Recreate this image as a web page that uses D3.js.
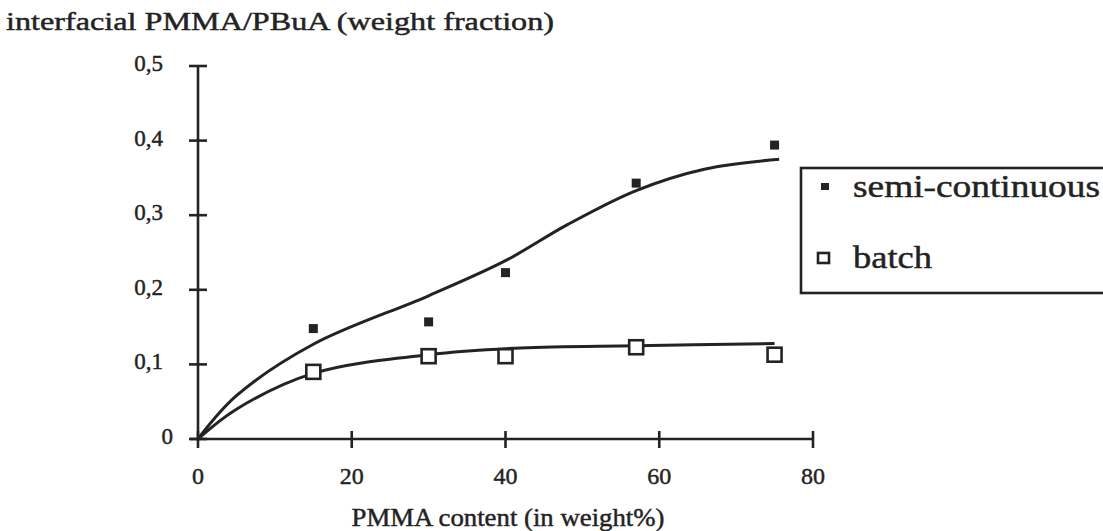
<!DOCTYPE html>
<html>
<head>
<meta charset="utf-8">
<script src="https://cdn.jsdelivr.net/npm/d3@7"></script>
<style>
  html, body { margin: 0; padding: 0; background: #fff; }
  svg { display: block; font-family: "Liberation Serif", "DejaVu Serif", serif; }
  text { stroke: #232323; stroke-width: 0.45px; }
</style>
</head>
<body>
<svg id="chart" width="1103" height="531"></svg>
<script>
// PMMA content (weight %) of the measured latexes
const pmmaContent = [15, 30, 40, 57, 75];
// interfacial PMMA/PBuA weight fraction, semi-continuous process
const semiContinuous = [0.148, 0.157, 0.223, 0.343, 0.394];
// interfacial PMMA/PBuA weight fraction, batch process
const batch = [0.090, 0.111, 0.111, 0.123, 0.113];

// hand-drawn trend curves through each series
const semiTrendX = [0, 5, 15, 30, 40, 48, 57, 66, 75.6];
const semiTrendY = [0, 0.058, 0.127, 0.192, 0.239, 0.287, 0.333, 0.362, 0.375];
const batchTrendX = [0, 5, 15, 30, 42, 57, 75];
const batchTrendY = [0, 0.040, 0.088, 0.113, 0.122, 0.125, 0.128];

const xTicks = [0, 20, 40, 60, 80];
const yTicks = [0, 0.1, 0.2, 0.3, 0.4, 0.5];
const yTickLabels = ["0", "0,1", "0,2", "0,3", "0,4", "0,5"];

const seriesNames = ["semi-continuous", "batch"];
const titleText = "interfacial PMMA/PBuA (weight fraction)";
const xAxisTitle = "PMMA content (in weight%)";

const ink = "#232323";
const svg = d3.select("#chart");

const x = d3.scaleLinear().domain([0, 80]).range([198, 813]);
const y = d3.scaleLinear().domain([0, 0.5]).range([439, 66]);

// axes: plain lines with cross ticks
const axes = svg.append("g").attr("stroke", ink).attr("stroke-width", 2.6).attr("fill", "none");
axes.append("line").attr("x1", x(0)).attr("x2", x(0)).attr("y1", y(0) + 2).attr("y2", y(0.5));
axes.append("line").attr("x1", x(0) - 8).attr("x2", x(80)).attr("y1", y(0)).attr("y2", y(0));
axes.selectAll(".yt").data(yTicks).join("line")
  .attr("x1", x(0) - 9).attr("x2", x(0) + 9)
  .attr("y1", d => y(d)).attr("y2", d => y(d));
axes.selectAll(".xt").data(xTicks).join("line")
  .attr("x1", d => x(d)).attr("x2", d => x(d))
  .attr("y1", y(0) - 8).attr("y2", y(0) + 9);

// y tick labels
svg.append("g").selectAll("text").data(yTicks).join("text")
  .attr("x", (d, i) => i === 0 ? 173 : 163)
  .attr("y", d => y(d) - 3)
  .attr("dy", "0.35em")
  .attr("text-anchor", "end")
  .attr("font-size", 23)
  .attr("fill", ink)
  .text((d, i) => yTickLabels[i]);

// x tick labels
svg.append("g").selectAll("text").data(xTicks).join("text")
  .attr("x", d => x(d))
  .attr("y", 484)
  .attr("text-anchor", "middle")
  .attr("font-size", 24)
  .attr("fill", ink)
  .text(d => d);

// titles
svg.append("text")
  .attr("x", 6).attr("y", 30)
  .attr("font-size", 25)
  .attr("textLength", 548).attr("lengthAdjust", "spacingAndGlyphs")
  .attr("fill", ink)
  .text(titleText);

svg.append("text")
  .attr("x", 508).attr("y", 526)
  .attr("text-anchor", "middle")
  .attr("font-size", 26)
  .attr("textLength", 313).attr("lengthAdjust", "spacingAndGlyphs")
  .attr("fill", ink)
  .text(xAxisTitle);

// trend curves
const line = d3.line().x(d => x(d[0])).y(d => y(d[1])).curve(d3.curveCatmullRom.alpha(0.5));
const curves = svg.append("g").attr("fill", "none").attr("stroke", ink).attr("stroke-width", 3);
curves.append("path").attr("d", line(d3.zip(semiTrendX, semiTrendY)));
curves.append("path").attr("d", line(d3.zip(batchTrendX, batchTrendY)));

// markers
svg.append("g").selectAll("rect").data(d3.zip(pmmaContent, semiContinuous)).join("rect")
  .attr("x", d => x(d[0]) - 4.5).attr("y", d => y(d[1]) - 4.5)
  .attr("width", 9).attr("height", 9)
  .attr("fill", ink);

svg.append("g").selectAll("rect").data(d3.zip(pmmaContent, batch)).join("rect")
  .attr("x", d => x(d[0]) - 7).attr("y", d => y(d[1]) - 7)
  .attr("width", 14).attr("height", 14)
  .attr("fill", "#fff").attr("stroke", ink).attr("stroke-width", 2.6);

// legend
const legend = svg.append("g");
legend.append("rect")
  .attr("x", 801).attr("y", 168).attr("width", 340).attr("height", 125)
  .attr("fill", "none").attr("stroke", ink).attr("stroke-width", 2.6);
legend.append("rect").attr("x", 821).attr("y", 183).attr("width", 8).attr("height", 7).attr("fill", ink);
legend.append("rect").attr("x", 818).attr("y", 253).attr("width", 11).attr("height", 10)
  .attr("fill", "#fff").attr("stroke", ink).attr("stroke-width", 2.6);
legend.append("text").attr("x", 853).attr("y", 197).attr("font-size", 31)
  .attr("textLength", 247).attr("lengthAdjust", "spacingAndGlyphs")
  .attr("fill", ink).text(seriesNames[0]);
legend.append("text").attr("x", 853).attr("y", 268).attr("font-size", 31)
  .attr("textLength", 79).attr("lengthAdjust", "spacingAndGlyphs")
  .attr("fill", ink).text(seriesNames[1]);
</script>
</body>
</html>
